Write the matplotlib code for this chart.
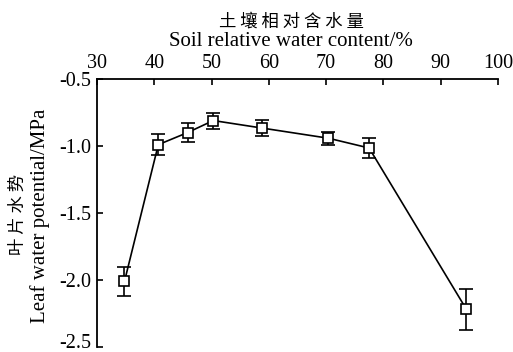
import matplotlib
matplotlib.use("Agg")
import matplotlib.pyplot as plt
import matplotlib.transforms as mtransforms

swc = [34.8, 40.7, 45.8, 50.3, 58.8, 70.4, 77.5, 94.5]
lwp = [-2.01, -0.99, -0.90, -0.81, -0.866, -0.942, -1.015, -2.22]
err = [0.11, 0.08, 0.07, 0.06, 0.06, 0.05, 0.075, 0.15]
xticks = [30, 40, 50, 60, 70, 80, 90, 100]
yticks = [-0.5, -1.0, -1.5, -2.0, -2.5]

serif = ['Liberation Serif', 'Noto Sans CJK SC']
cjk = ['Noto Sans CJK SC', 'Liberation Serif']

fig = plt.figure(figsize=(5.13, 3.52), dpi=100)
ax = fig.add_axes([97/513, 1-347/352, (498-97)/513, (347-79)/352])

ax.errorbar(swc, lwp, yerr=err, color='black', lw=1.2, marker='s', ms=6.5,
            mfc='white', mec='black', mew=1.2, capsize=5, capthick=1.2,
            elinewidth=1.2)

ax.set_xlim(30, 100)
ax.set_ylim(-2.5, -0.5)
ax.set_xticks(xticks)
ax.set_yticks(yticks)
ax.xaxis.tick_top()
ax.set_xticklabels([str(v) for v in xticks], family=serif, fontsize=14.5)
ax.set_yticklabels(['%.1f' % v for v in yticks], family=serif, fontsize=14.5)
ax.tick_params(axis='both', direction='in', length=4, width=1.2)
ax.tick_params(axis='x', pad=4)
ax.tick_params(axis='y', pad=4)
for s in ['right', 'bottom']:
    ax.spines[s].set_visible(False)
for s in ['left', 'top']:
    ax.spines[s].set_linewidth(1.3)

# nudge the lowest y tick label up so it stays inside the figure
last = ax.get_yticklabels()[-1]
last.set_transform(last.get_transform() +
                   mtransforms.ScaledTranslation(0, 6/100, fig.dpi_scale_trans))

fig.text(291/513, 1-22/352, '土 壤 相 对 含 水 量', family=cjk, fontsize=12.5,
         ha='center', va='center')
fig.text(291/513, 1-42/352, 'Soil relative water content/%', family=serif,
         fontsize=15, ha='center', va='center')
fig.text(18/513, 1-214/352, '叶 片 水 势', family=cjk, fontsize=12.5,
         ha='center', va='center', rotation=90)
fig.text(40/513, 1-216/352, 'Leaf water potential/MPa', family=serif,
         fontsize=15, ha='center', va='center', rotation=90)

fig.savefig('out.png', dpi=100)
